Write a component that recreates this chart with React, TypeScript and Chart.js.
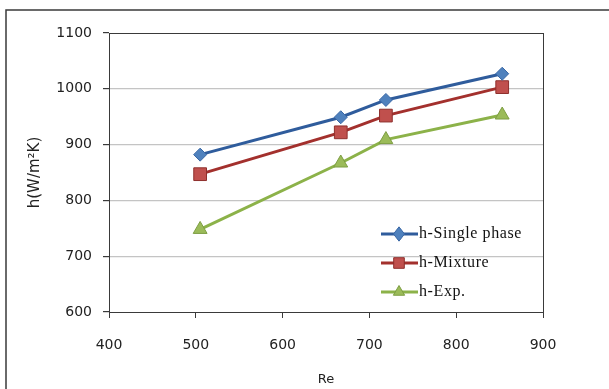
import React, { useEffect, useRef } from "react";
import { Chart, registerables } from "chart.js";

Chart.register(...registerables);

const reValues = [505, 667, 719, 853];
const singlePhase = [882, 949, 980, 1027];
const mixture = [847, 922, 952, 1003];
const experiment = [748, 867, 909, 953];
const seriesNames = ["h-Single phase", "h-Mixture", "h-Exp."];
const yAxisTitle = "h(W/m\u00B2K)";
const xAxisTitle = "Re";

const framePlugin = {
  id: "frame",
  beforeDraw(chart: any) {
    const ctx = chart.ctx;
    ctx.save();
    ctx.fillStyle = "#ffffff";
    ctx.fillRect(0, 0, chart.width, chart.height);
    ctx.strokeStyle = "#3a3a3a";
    ctx.lineWidth = 1.5;
    ctx.beginPath();
    ctx.moveTo(6, chart.height);
    ctx.lineTo(6, 10);
    ctx.lineTo(chart.width, 10);
    ctx.stroke();
    ctx.restore();
  },
  afterDraw(chart: any) {
    const ctx = chart.ctx;
    const a = chart.chartArea;
    ctx.save();
    ctx.strokeStyle = "#3a3a3a";
    ctx.lineWidth = 1;
    ctx.strokeRect(a.left + 0.5, a.top + 0.5, a.right - a.left, a.bottom - a.top);
    ctx.restore();
  },
};

function drawMarker(ctx: any, style: string, x: number, y: number, r: number) {
  ctx.beginPath();
  if (style === "rectRot") {
    ctx.moveTo(x, y - r * 1.1);
    ctx.lineTo(x + r * 0.85, y);
    ctx.lineTo(x, y + r * 1.1);
    ctx.lineTo(x - r * 0.85, y);
  } else if (style === "rect") {
    const s = r * Math.SQRT1_2;
    ctx.rect(x - s, y - s, 2 * s, 2 * s);
  } else {
    ctx.moveTo(x, y - r);
    ctx.lineTo(x + r * 0.866, y + r * 0.5);
    ctx.lineTo(x - r * 0.866, y + r * 0.5);
  }
  ctx.closePath();
  ctx.fill();
  ctx.stroke();
}

const legendPlugin = {
  id: "innerLegend",
  afterDraw(chart: any) {
    const ctx = chart.ctx;
    const rows = [234, 263, 292];
    ctx.save();
    chart.data.datasets.forEach((ds: any, i: number) => {
      const y = rows[i];
      ctx.strokeStyle = ds.borderColor;
      ctx.lineWidth = 3;
      ctx.beginPath();
      ctx.moveTo(381, y);
      ctx.lineTo(418, y);
      ctx.stroke();
      ctx.fillStyle = ds.pointBackgroundColor;
      ctx.strokeStyle = ds.pointBorderColor;
      ctx.lineWidth = 1;
      drawMarker(ctx, ds.pointStyle, 399, y, ds.pointStyle === "rect" ? 7.5 : 6.5);
      ctx.fillStyle = "#111111";
      ctx.font = '16px "Liberation Serif"';
      ctx.textBaseline = "middle";
      ctx.textAlign = "left";
      (ctx as any).letterSpacing = "0.6px";
      ctx.fillText(ds.label, 419, y);
      (ctx as any).letterSpacing = "0px";
    });
    ctx.restore();
  },
};

export default function App() {
  const ref = useRef<HTMLCanvasElement>(null);
  useEffect(() => {
    if (!ref.current) return;
    const mk = (vals: number[]) => reValues.map((x, i) => ({ x, y: vals[i] }));
    const chart = new Chart(ref.current, {
      type: "line",
      data: {
        datasets: [
          {
            label: seriesNames[0],
            data: mk(singlePhase),
            borderColor: "#2F5C9C",
            borderWidth: 3,
            pointStyle: "rectRot",
            pointRadius: 6.5,
            pointBackgroundColor: "#4F81BD",
            pointBorderColor: "#3A68A6",
            pointBorderWidth: 1,
          },
          {
            label: seriesNames[1],
            data: mk(mixture),
            borderColor: "#A3302D",
            borderWidth: 3,
            pointStyle: "rect",
            pointRadius: 9,
            pointBackgroundColor: "#C0504D",
            pointBorderColor: "#8E2F2C",
            pointBorderWidth: 1,
          },
          {
            label: seriesNames[2],
            data: mk(experiment),
            borderColor: "#8CB249",
            borderWidth: 3,
            pointStyle: "triangle",
            pointRadius: 8,
            pointBackgroundColor: "#9BBB59",
            pointBorderColor: "#7D9E42",
            pointBorderWidth: 1,
          },
        ],
      },
      options: {
        responsive: false,
        animation: false,
        layout: { padding: { top: 33, right: 66, bottom: 0, left: 0 } },
        plugins: { legend: { display: false }, tooltip: { enabled: false } },
        scales: {
          x: {
            type: "linear",
            min: 400,
            max: 900,
            afterFit: (s: any) => {
              s.height = 77;
            },
            ticks: {
              stepSize: 100,
              padding: 19,
              color: "#222",
              font: { family: "DejaVu Sans", size: 14 },
              callback: (v: any) => String(v),
            },
            grid: {
              drawOnChartArea: false,
              drawTicks: true,
              tickLength: 6,
              color: "#3a3a3a",
            },
            border: { color: "#3a3a3a", width: 1 },
            title: {
              display: true,
              text: xAxisTitle,
              color: "#222",
              font: { family: "DejaVu Sans", size: 13 },
              padding: { top: 0, bottom: 2 },
            },
          },
          y: {
            min: 600,
            max: 1100,
            afterFit: (s: any) => {
              s.width = 109;
            },
            ticks: {
              stepSize: 100,
              padding: 11,
              color: "#222",
              font: { family: "DejaVu Sans", size: 14 },
              callback: (v: any) => String(v),
            },
            grid: {
              color: (c: any) =>
                c.tick && (c.tick.value === 600 || c.tick.value === 1100) ? "rgba(0,0,0,0)" : "#c4c4c4",
              tickColor: "#3a3a3a",
              tickLength: 6,
              lineWidth: 1.2,
            },
            border: { color: "#3a3a3a", width: 1 },
            title: {
              display: true,
              text: yAxisTitle,
              color: "#222",
              font: { family: "DejaVu Sans", size: 15 },
              padding: { top: 26, bottom: 0 },
            },
          },
        },
      },
      plugins: [framePlugin, legendPlugin],
    });
    return () => chart.destroy();
  }, []);
  return (
    <div style={{ position: "absolute", left: 0, top: 0, width: 609, height: 389 }}>
      <canvas ref={ref} width={609} height={389} />
    </div>
  );
}
